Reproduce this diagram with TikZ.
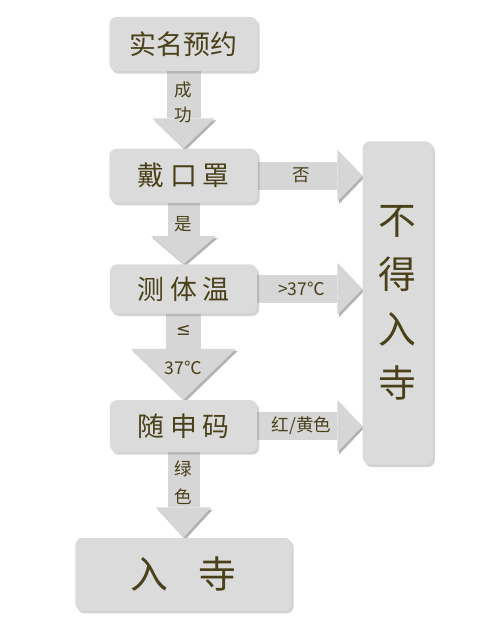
\documentclass[tikz,border=0pt]{standalone}
\usepackage{fontspec}
\setmainfont{Noto Sans CJK SC}
\newfontfamily\fuhao{DejaVu Sans}
\usepackage{xcolor}
\usepackage{tikz}
\usetikzlibrary{arrows.meta}
\usetikzlibrary{positioning}
\usetikzlibrary{shadows}
\usetikzlibrary{backgrounds}
\definecolor{zi}{RGB}{74,64,26}
\definecolor{kuangse}{RGB}{219,219,219}
\definecolor{jianse}{RGB}{214,214,214}
\tikzset{
  kuang/.style 2 args={rounded corners=4pt, fill=kuangse, text=zi, align=center, minimum width=#1, minimum height=#2, inner sep=2pt, font=\fontsize{15.3}{18}\selectfont, drop shadow={shadow xshift=1.2pt, shadow yshift=-1.5pt, opacity=0.35}},
  dajian/.style n args={3}{line width=#1, draw=jianse, -{Triangle[width=#2, length=#3, line width=0pt]},
    preaction={draw=black!30, -{Triangle[width=#2, length=#3, line width=0pt]}, transform canvas={shift={(1pt,-1.2pt)}}}},
  biao/.style={text=zi, align=center, inner sep=0pt, font=\fontsize{10}{14}\selectfont},
}

\begin{document}
\begin{tikzpicture}
  \useasboundingbox (-3.67,0.88) rectangle (6.33,-11.74);
  \node[kuang={2.96cm}{1.08cm}] (yuyue) {实名预约};
  \node[kuang={2.96cm}{1.08cm}, below=1.54cm of yuyue] (kouzhao) {戴 口 罩};
  \node[kuang={2.94cm}{0.98cm}, below=1.22cm of kouzhao] (tiwen) {测 体 温};
  \node[kuang={2.94cm}{1.04cm}, below=1.72cm of tiwen] (suishen) {随 申 码};
  \node[kuang={4.32cm}{1.46cm}, font=\fontsize{21.5}{24}\selectfont, below=1.7cm of suishen] (rusi) {入\hspace{0.8em}寺};
  \node[kuang={1.4cm}{6.46cm}, font=\fontsize{21.5}{31}\selectfont, right=2.1cm of tiwen, yshift=-0.28cm] (busi) {不\\得\\入\\寺};

  \begin{scope}[on background layer]
    % down the left column
    \draw[dajian={0.68cm}{1.24cm}{0.6cm}] (yuyue) -- node[pos=0.4, biao] {成\\功} (kouzhao);
    \draw[dajian={0.64cm}{1.3cm}{0.56cm}] (kouzhao) -- node[pos=0.35, biao] {是} (tiwen);
    \draw[dajian={0.7cm}{2.1cm}{1.02cm}] (tiwen) -- node[pos=0.42, biao] {{\fuhao ≤}\\[8pt]37℃} (suishen);
    \draw[dajian={0.64cm}{1.1cm}{0.6cm}] (suishen) -- node[pos=0.36, biao] {绿\\[2pt]色} (rusi);
    % across to the right
    \draw[dajian={0.56cm}{1.04cm}{0.5cm}] (kouzhao.east) -- node[pos=0.42, biao] {否} (kouzhao.east -| busi.west);
    \draw[dajian={0.56cm}{1.04cm}{0.5cm}] (tiwen.east) -- node[pos=0.42, biao] {>37℃} (tiwen.east -| busi.west);
    \draw[dajian={0.56cm}{1.04cm}{0.5cm}] (suishen.east) -- node[pos=0.42, biao] {红/黄色} (suishen.east -| busi.west);
  \end{scope}
\end{tikzpicture}
\end{document}
